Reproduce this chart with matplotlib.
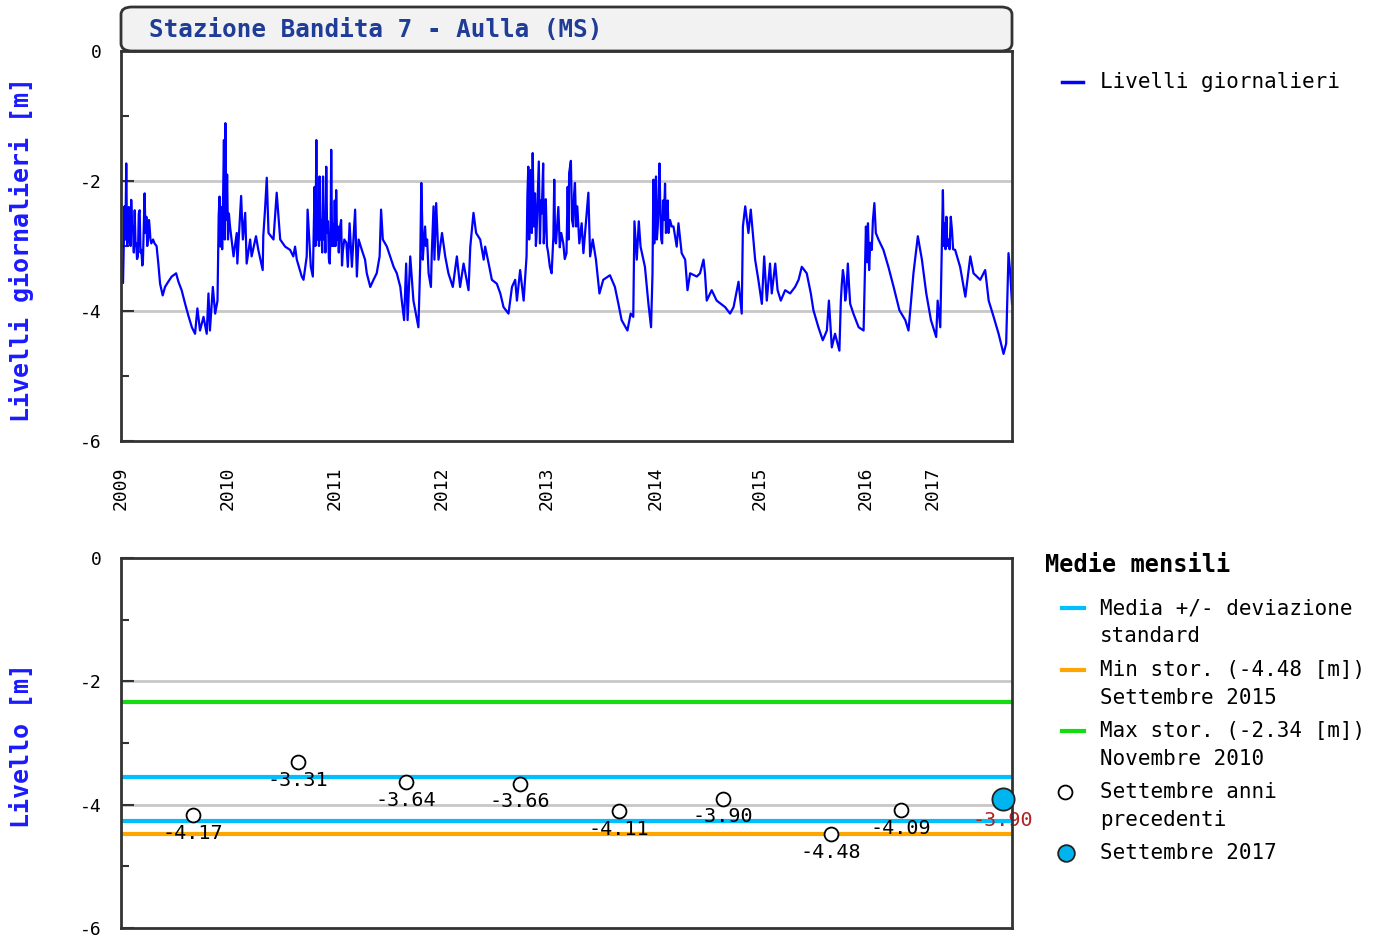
import numpy as np
import matplotlib
matplotlib.use("Agg")
import matplotlib.pyplot as plt
from matplotlib.lines import Line2D
from matplotlib.patches import FancyBboxPatch

plt.rcParams['font.family'] = ['DejaVu Sans Mono', 'DejaVu Sans']
plt.rcParams['axes.unicode_minus'] = False

# Livelli giornalieri: giorno di registrazione (dal 1/1/2009) e livello [m]
giorni = [
    0, 7, 12, 15, 18, 21, 24, 27, 30, 33,
    35, 38, 41, 44, 47, 50, 52, 55, 58, 61,
    64, 67, 70, 73, 75, 78, 81, 84, 87, 90,
    93, 96, 98, 101, 104, 110, 115, 122, 128, 134,
    143, 151, 162, 174, 189, 197, 208, 220, 231, 243,
    254, 262, 271, 283, 294, 300, 305, 315, 323, 331,
    335, 338, 341, 344, 347, 350, 353, 356, 358, 361,
    364, 367, 370, 374, 386, 397, 399, 412, 418, 426,
    431, 443, 448, 463, 471, 486, 488, 494, 500, 506,
    523, 534, 546, 563, 580, 591, 597, 603, 620, 626,
    637, 640, 651, 658, 664, 667, 670, 673, 676, 679,
    681, 684, 687, 690, 693, 696, 698, 701, 704, 707,
    710, 713, 716, 719, 721, 724, 727, 730, 733, 736,
    738, 741, 744, 747, 750, 755, 758, 761, 766, 773,
    778, 784, 792, 803, 809, 815, 826, 837, 843, 855,
    866, 877, 887, 892, 898, 912, 923, 935, 946, 958,
    963, 971, 978, 983, 992, 1003, 1020, 1026, 1030, 1033,
    1035, 1038, 1043, 1046, 1050, 1055, 1063, 1066, 1072, 1075,
    1081, 1089, 1101, 1112, 1123, 1138, 1152, 1163, 1175, 1192,
    1198, 1209, 1218, 1232, 1244, 1249, 1261, 1272, 1289, 1301,
    1312, 1329, 1341, 1352, 1358, 1369, 1381, 1391, 1394, 1397,
    1400, 1403, 1406, 1409, 1412, 1416, 1420, 1423, 1425, 1429,
    1433, 1437, 1440, 1443, 1448, 1450, 1454, 1457, 1461, 1465,
    1471, 1477, 1483, 1486, 1489, 1492, 1500, 1505, 1510, 1517,
    1522, 1528, 1532, 1535, 1537, 1543, 1547, 1551, 1554, 1557,
    1561, 1565, 1572, 1580, 1586, 1603, 1609, 1618, 1629, 1641,
    1654, 1677, 1694, 1706, 1717, 1737, 1748, 1757, 1761, 1769,
    1776, 1782, 1797, 1809, 1818, 1823, 1826, 1829, 1832, 1835,
    1838, 1841, 1844, 1847, 1850, 1853, 1856, 1859, 1862, 1866,
    1869, 1872, 1875, 1878, 1883, 1889, 1895, 1906, 1912, 1923,
    1935, 1943, 1952, 1975, 1986, 1998, 2003, 2009, 2026, 2043,
    2072, 2089, 2101, 2118, 2129, 2133, 2141, 2152, 2160, 2167,
    2175, 2186, 2198, 2206, 2215, 2226, 2232, 2244, 2252, 2263,
    2278, 2295, 2312, 2324, 2335, 2352, 2366, 2375, 2392, 2407,
    2421, 2428, 2438, 2449, 2464, 2469, 2472, 2476, 2480, 2484,
    2488, 2493, 2497, 2501, 2512, 2530, 2547, 2552, 2555, 2559,
    2562, 2566, 2570, 2575, 2579, 2584, 2589, 2598, 2615, 2632,
    2650, 2670, 2690, 2701, 2718, 2733, 2747, 2762, 2778, 2796,
    2801, 2810, 2819, 2822, 2825, 2828, 2831, 2834, 2838, 2842,
    2846, 2850, 2854, 2861, 2878, 2896, 2913, 2924, 2947, 2964,
    2976, 2993, 3010, 3027, 3036, 3044, 3050, 3056,
]
livelli = [
    -3.21, -3.57, -2.39, -2.90, -1.73, -3.00, -2.91, -2.40, -2.60, -3.00,
    -2.29, -2.70, -2.70, -3.10, -2.45, -3.00, -2.96, -3.20, -3.16, -2.50,
    -2.45, -3.10, -3.06, -3.30, -3.27, -2.70, -2.19, -2.80, -2.55, -3.00,
    -2.86, -2.60, -2.70, -2.90, -2.96, -2.90, -2.96, -3.00, -3.27, -3.58,
    -3.76, -3.63, -3.55, -3.47, -3.42, -3.55, -3.68, -3.89, -4.07, -4.25,
    -4.35, -3.96, -4.30, -4.09, -4.35, -3.73, -4.30, -3.63, -4.04, -3.84,
    -2.54, -2.24, -3.01, -2.40, -3.05, -2.30, -1.37, -2.90, -1.11, -2.60,
    -1.90, -2.90, -2.50, -2.70, -3.16, -2.80, -3.27, -2.23, -2.90, -2.49,
    -3.27, -2.90, -3.16, -2.85, -3.06, -3.37, -2.85, -2.44, -1.95, -2.80,
    -2.90, -2.18, -2.90, -3.01, -3.06, -3.16, -3.01, -3.21, -3.47, -3.52,
    -3.16, -2.44, -3.32, -3.47, -2.09, -3.00, -1.37, -2.90, -2.45, -3.00,
    -1.93, -2.90, -2.60, -3.10, -1.93, -2.90, -2.50, -3.10, -1.78, -2.80,
    -2.62, -3.20, -3.27, -2.70, -1.52, -3.00, -2.66, -3.00, -2.30, -3.00,
    -2.14, -2.90, -2.70, -3.10, -2.75, -2.60, -3.30, -3.07, -2.90, -2.95,
    -3.32, -2.65, -3.32, -2.44, -3.47, -2.90, -3.06, -3.21, -3.42, -3.63,
    -3.52, -3.42, -3.16, -2.44, -2.90, -3.01, -3.16, -3.32, -3.42, -3.63,
    -3.84, -4.14, -3.27, -4.14, -3.16, -3.84, -4.25, -3.32, -2.03, -2.60,
    -3.21, -3.00, -2.70, -3.00, -2.90, -3.42, -3.63, -3.10, -2.39, -3.21,
    -2.34, -3.21, -2.80, -3.16, -3.42, -3.63, -3.16, -3.63, -3.27, -3.68,
    -3.01, -2.49, -2.80, -2.90, -3.21, -3.01, -3.27, -3.52, -3.58, -3.73,
    -3.94, -4.04, -3.63, -3.52, -3.84, -3.37, -3.84, -3.16, -2.20, -1.78,
    -2.90, -2.45, -1.83, -2.80, -1.57, -2.70, -2.19, -3.00, -2.86, -2.30,
    -1.70, -2.96, -2.30, -2.50, -1.73, -2.96, -2.60, -2.28, -3.00, -3.10,
    -3.32, -3.42, -2.86, -1.98, -2.90, -2.96, -2.40, -3.02, -2.80, -2.96,
    -3.20, -3.11, -2.09, -2.90, -1.88, -1.69, -2.60, -2.70, -2.20, -2.03,
    -2.70, -2.39, -2.96, -2.65, -3.11, -2.18, -3.16, -2.90, -3.21, -3.73,
    -3.52, -3.45, -3.63, -3.89, -4.14, -4.30, -4.04, -4.09, -2.62, -3.21,
    -2.62, -3.01, -3.32, -3.89, -4.25, -3.42, -1.98, -2.96, -2.20, -1.93,
    -2.90, -2.70, -2.30, -1.73, -2.50, -2.90, -2.96, -2.30, -2.60, -2.04,
    -2.80, -2.64, -2.30, -2.80, -2.60, -2.70, -2.70, -3.01, -2.65, -3.11,
    -3.21, -3.68, -3.42, -3.47, -3.42, -3.21, -3.42, -3.84, -3.68, -3.84,
    -3.94, -4.04, -3.94, -3.55, -4.04, -2.70, -2.39, -2.80, -2.44, -2.80,
    -3.21, -3.52, -3.89, -3.16, -3.84, -3.27, -3.73, -3.27, -3.68, -3.84,
    -3.68, -3.73, -3.63, -3.52, -3.32, -3.42, -3.73, -3.99, -4.25, -4.45,
    -4.30, -3.84, -4.56, -4.35, -4.61, -3.84, -3.60, -3.37, -3.50, -3.84,
    -3.70, -3.27, -3.60, -3.89, -4.04, -4.25, -4.30, -3.27, -2.70, -3.25,
    -2.65, -3.37, -2.95, -3.06, -2.60, -2.34, -2.80, -2.90, -3.06, -3.32,
    -3.63, -3.99, -4.14, -4.30, -3.42, -2.85, -3.21, -3.73, -4.14, -4.40,
    -3.84, -4.25, -2.14, -3.00, -2.65, -3.05, -2.55, -3.00, -2.90, -3.05,
    -2.55, -2.75, -3.05, -3.06, -3.32, -3.78, -3.16, -3.42, -3.52, -3.37,
    -3.84, -4.09, -4.35, -4.66, -4.50, -3.11, -3.42, -3.89,
]
assert len(giorni) == len(livelli)

# Etichette degli anni (giorno di registrazione corrispondente)
anni = ['2009', '2010', '2011', '2012', '2013', '2014', '2015', '2016', '2017']
giorni_anni = [0, 367, 731, 1098, 1461, 1832, 2192, 2555, 2785]
giorno_fine = 3056

# Medie mensili di settembre
giorni_settembre = [247, 607, 978, 1369, 1708, 2065, 2435, 2675]
medie_settembre = [-4.17, -3.31, -3.64, -3.66, -4.11, -3.90, -4.48, -4.09]
giorno_sett_2017 = 3025
media_sett_2017 = -3.90

media = -3.91
dev_std = 0.36
min_stor = -4.48
max_stor = -2.34

W, H = 1381, 942
BLU = '#0000ff'
CIANO = '#00bfff'
ARANCIO = '#ffa500'
VERDE = '#11dd11'
GRIGIO = '#c8c8c8'
BORDO = '#333333'


def fx(px):
    return px / W


def fy(py):
    return 1 - py / H


def stile_assi(ax):
    ax.set_xlim(0, giorno_fine)
    ax.set_ylim(-6, 0)
    ax.set_yticks([0, -2, -4, -6])
    ax.set_yticks([-1, -3, -5], minor=True)
    ax.tick_params(axis='y', which='major', direction='in', length=9,
                   width=1.5, color=BORDO, labelsize=13, pad=14)
    ax.tick_params(axis='y', which='minor', direction='in', length=6,
                   width=1.5, color=BORDO)
    for y in [-2, -4]:
        ax.axhline(y, color=GRIGIO, lw=2, zorder=0)
    for s in ax.spines.values():
        s.set_color(BORDO)
        s.set_linewidth(2)


fig = plt.figure(figsize=(W / 100, H / 100), dpi=100)

"""1. Grafico livelli giornalieri"""
ax1 = fig.add_axes([fx(121), fy(441), fx(1012 - 121), (441 - 51) / H])
ax1.plot(giorni, livelli, color=BLU, lw=1.6, zorder=2)
stile_assi(ax1)
ax1.set_xticks(giorni_anni)
ax1.set_xticklabels(anni, rotation=90, fontsize=13)
ax1.tick_params(axis='x', length=0, pad=18)

# Intestazione con il nome della stazione
testata = FancyBboxPatch((fx(121), fy(51)), fx(1012 - 121), (51 - 7) / H,
                         boxstyle='round,pad=0,rounding_size=0.008',
                         transform=fig.transFigure, facecolor='#f2f2f2',
                         edgecolor=BORDO, lw=2, zorder=0)
fig.patches.append(testata)
fig.text(fx(149), fy(30), 'Stazione Bandita 7 - Aulla (MS)', color='#1f3c96',
         fontsize=17.5, fontweight='bold', va='center', ha='left')

fig.text(fx(22), fy(249), 'Livelli giornalieri [m]', color='#1a1aff',
         fontsize=18, fontweight='bold', rotation=90, ha='center', va='center')

# Legenda superiore
fig.lines.append(Line2D([fx(1062), fx(1083)], [fy(82), fy(82)], color=BLU,
                        lw=2.5, transform=fig.transFigure))
fig.text(fx(1100), fy(82), 'Livelli giornalieri', fontsize=15, va='center')

"""2. Grafico medie mensili"""
ax2 = fig.add_axes([fx(121), fy(928), fx(1012 - 121), (928 - 558) / H])
stile_assi(ax2)
ax2.set_xticks([])
ax2.axhline(media + dev_std, color=CIANO, lw=3, zorder=1)
ax2.axhline(media - dev_std, color=CIANO, lw=3, zorder=1)
ax2.axhline(min_stor, color=ARANCIO, lw=3, zorder=1)
ax2.axhline(max_stor, color=VERDE, lw=3, zorder=1)

ax2.plot(giorni_settembre, medie_settembre, 'o', ms=10, mfc='white',
         mec='black', mew=1.3, ls='none', zorder=4)
for g, v in zip(giorni_settembre, medie_settembre):
    ax2.annotate('%.2f' % v, (g, v), xytext=(0, -18), textcoords='offset pixels',
                 ha='center', va='center', fontsize=14.5, zorder=3)

ax2.plot([giorno_sett_2017], [media_sett_2017], 'o', ms=16, mfc='#00b4f0',
         mec='#222222', mew=1.3, clip_on=False, zorder=5)
ax2.annotate('%.2f' % media_sett_2017, (giorno_sett_2017, media_sett_2017),
             xytext=(0, -22), textcoords='offset pixels', ha='center',
             va='center', fontsize=14.5, color='#b22222', zorder=2,
             annotation_clip=False)

fig.text(fx(22), fy(746), 'Livello [m]', color='#1a1aff', fontsize=18,
         fontweight='bold', rotation=90, ha='center', va='center')

# Legenda inferiore
fig.text(fx(1045), fy(565), 'Medie mensili', fontsize=17, fontweight='bold',
         va='center')
voci = [
    (CIANO, ['Media +/- deviazione', 'standard'], 608),
    (ARANCIO, ['Min stor. (-4.48 [m])', 'Settembre 2015'], 670),
    (VERDE, ['Max stor. (-2.34 [m])', 'Novembre 2010'], 731),
]
for colore, righe, py in voci:
    fig.lines.append(Line2D([fx(1062), fx(1084)], [fy(py), fy(py)],
                            color=colore, lw=3, transform=fig.transFigure))
    for i, r in enumerate(righe):
        fig.text(fx(1100), fy(py + 28 * i), r, fontsize=15, va='center')

fig.lines.append(Line2D([fx(1065)], [fy(792)], marker='o', ms=10, mfc='white',
                        mec='black', mew=1.3, transform=fig.transFigure))
fig.text(fx(1100), fy(792), 'Settembre anni', fontsize=15, va='center')
fig.text(fx(1100), fy(820), 'precedenti', fontsize=15, va='center')
fig.lines.append(Line2D([fx(1066)], [fy(853)], marker='o', ms=12,
                        mfc='#00b4f0', mec='#222222', mew=1.3,
                        transform=fig.transFigure))
fig.text(fx(1100), fy(853), 'Settembre 2017', fontsize=15, va='center')

fig.savefig('out.png', dpi=100)
